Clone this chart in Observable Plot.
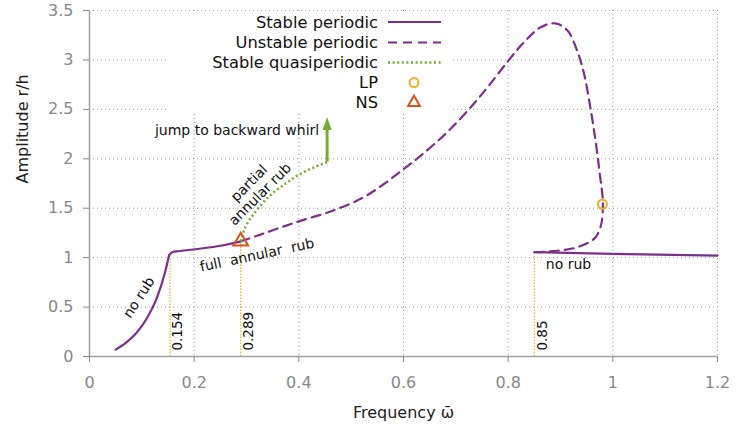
<!DOCTYPE html>
<html><head><meta charset="utf-8">
<script src="https://cdn.jsdelivr.net/npm/d3@7"></script>
<script src="https://cdn.jsdelivr.net/npm/@observablehq/plot@0.6"></script>
<style>
body{margin:0;background:#fff}
svg text{white-space:pre}
</style>
</head><body><div id="chart"></div>
<script>
// ---- data ----
const xTicks = [0, 0.2, 0.4, 0.6, 0.8, 1, 1.2];
const yTicks = [0, 0.5, 1, 1.5, 2, 2.5, 3, 3.5];

// stable periodic, no rub (low frequency)
const noRubX = [0.05, 0.07, 0.09, 0.11, 0.13, 0.145, 0.152];
const noRubY = [0.07, 0.14, 0.24, 0.39, 0.61, 0.865, 1.025];
// stable periodic, full annular rub
const fullRubX = [0.152, 0.158, 0.17, 0.21, 0.25, 0.289];
const fullRubY = [1.025, 1.055, 1.065, 1.09, 1.12, 1.165];
// unstable periodic
const unstX = [0.289, 0.3205, 0.36, 0.403, 0.4605, 0.52, 0.56, 0.6006, 0.6325, 0.6835, 0.734, 0.763, 0.798, 0.827, 0.862, 0.89, 0.913, 0.932, 0.945, 0.957, 0.967, 0.975, 0.981, 0.9765, 0.964, 0.932, 0.894, 0.855];
const unstY = [1.165, 1.222, 1.295, 1.372, 1.467, 1.60, 1.735, 1.898, 2.03, 2.268, 2.555, 2.74, 2.976, 3.16, 3.33, 3.37, 3.30, 3.09, 2.86, 2.52, 2.18, 1.85, 1.544, 1.31, 1.19, 1.105, 1.07, 1.055];
// stable periodic, no rub (high frequency)
const highX = [0.85, 1.0, 1.2];
const highY = [1.055, 1.038, 1.021];
// stable quasiperiodic
const quasiX = [0.289, 0.292, 0.295, 0.303, 0.314, 0.332, 0.352, 0.375, 0.397, 0.425, 0.454];
const quasiY = [1.165, 1.22, 1.274, 1.36, 1.443, 1.56, 1.66, 1.75, 1.83, 1.905, 1.965];
// jump arrow
const jumpX = 0.454, jumpY1 = 1.965, jumpY2 = 2.29;
// bifurcation points
const lpX = [0.98], lpY = [1.54];
const nsX = [0.289], nsY = [1.165];
// vertical marker lines
const markX = [0.154, 0.289, 0.85];
const markY = [1.03, 1.165, 1.055];
const markLabels = ["0.154", "0.289", "0.85"];
// annotations
const notes = [
  {x: 0.094, y: 0.60, text: "no rub", rotate: -57, anchor: "middle"},
  {x: 0.32, y: 1.03, text: "full  annular  rub", rotate: -12, anchor: "middle"},
  {x: 0.315, y: 1.70, text: "partial\nannular rub", rotate: -45, anchor: "middle"},
  {x: 0.282, y: 2.29, text: "jump to backward whirl", rotate: 0, anchor: "middle"},
  {x: 0.872, y: 0.94, text: "no rub", rotate: 0, anchor: "start"}
];
const legendLabels = ["Stable periodic", "Unstable periodic", "Stable quasiperiodic", "LP", "NS"];

// ---- colours ----
const PURPLE = "#7e2f8e", GREEN = "#77ac30", YELLOW = "#edb120", RED = "#d95319";

const zip = (xs, ys) => xs.map((x, i) => ({x, y: ys[i]}));
const font = "DejaVu Sans, Verdana, sans-serif";

const arrowHead = {draw(ctx) { ctx.moveTo(0, -13); ctx.lineTo(4.5, 0); ctx.lineTo(-4.5, 0); ctx.closePath(); }};

const plot = Plot.plot({
  width: 736, height: 434,
  marginLeft: 89, marginRight: 19, marginTop: 10, marginBottom: 78,
  style: {fontFamily: font, background: "#fff"},
  x: {domain: [0, 1.2]},
  y: {domain: [0, 3.5]},
  marks: [
    Plot.gridX(xTicks, {stroke: "#9a9a9a", strokeOpacity: 1, strokeDasharray: "1,3"}),
    Plot.gridY(yTicks, {stroke: "#9a9a9a", strokeOpacity: 1, strokeDasharray: "1,3"}),
    Plot.ruleX([0], {stroke: "#a0a0a0", strokeWidth: 1.5}),
    Plot.ruleY([0], {stroke: "#a0a0a0", strokeWidth: 1.5}),
    Plot.axisX(xTicks, {tickSize: 6, tickPadding: 14, fontSize: 16, fill: "#888", stroke: "#888", label: null, tickFormat: d => String(d)}),
    Plot.axisY(yTicks, {tickSize: 6, tickPadding: 10, fontSize: 16, fill: "#888", stroke: "#888", label: null, tickFormat: d => String(d)}),
    Plot.text(["Frequency ω̄"], {frameAnchor: "bottom", dy: 61, text: d => d, fontSize: 16, fill: "#222"}),
    Plot.text(["Amplitude r/h"], {frameAnchor: "left", dx: -67, rotate: -90, text: d => d, fontSize: 16, fill: "#222"}),
    // marker lines
    Plot.ruleX(markX.map((x, i) => ({x, y: markY[i]})), {x: "x", y1: 0, y2: "y", stroke: YELLOW, strokeWidth: 1.2, strokeDasharray: "1.5,1.5"}),
    Plot.text(markX.map((x, i) => ({x, t: markLabels[i]})), {x: "x", y: 0.06, text: "t", rotate: -90, textAnchor: "start", dx: 8, fontSize: 13.5, fill: "#111"}),
    // curves
    Plot.line(zip(noRubX, noRubY), {x: "x", y: "y", stroke: PURPLE, strokeWidth: 2.2, curve: "monotone-x"}),
    Plot.line(zip(fullRubX, fullRubY), {x: "x", y: "y", stroke: PURPLE, strokeWidth: 2.2, curve: "monotone-x"}),
    Plot.line(zip(highX, highY), {x: "x", y: "y", stroke: PURPLE, strokeWidth: 2.2}),
    Plot.line(zip(unstX, unstY), {x: "x", y: "y", stroke: PURPLE, strokeWidth: 2.2, strokeDasharray: "9,6", curve: "catmull-rom"}),
    Plot.line(zip(quasiX, quasiY), {x: "x", y: "y", stroke: GREEN, strokeWidth: 2.5, strokeDasharray: "2,2.6", strokeLinecap: "butt", curve: "catmull-rom"}),
    // jump arrow
    Plot.ruleX([{x: jumpX, y1: jumpY1, y2: jumpY2}], {x: "x", y1: "y1", y2: "y2", stroke: GREEN, strokeWidth: 3}),
    Plot.dot([{x: jumpX, y: jumpY2}], {x: "x", y: "y", symbol: arrowHead, fill: GREEN, stroke: "none"}),
    // bifurcation markers
    Plot.dot(zip(lpX, lpY), {x: "x", y: "y", r: 4.5, stroke: YELLOW, strokeWidth: 2, fill: "none"}),
    Plot.dot(zip(nsX, nsY), {x: "x", y: "y", symbol: "triangle", r: 5.5, stroke: RED, strokeWidth: 2, fill: "none"}),
    // annotations
    ...notes.map(n => Plot.text([n], {x: "x", y: "y", text: "text", rotate: n.rotate, textAnchor: n.anchor, fontSize: 14, fill: "#111", lineHeight: 1.1}))
  ]
});
document.getElementById("chart").appendChild(plot);

// ---- legend (drawn inside the plot area, upper middle) ----
const svg = d3.select(plot);
const lg = svg.append("g").attr("font-family", font).attr("font-size", 16.3);
lg.append("rect").attr("x", 168).attr("y", 12).attr("width", 282).attr("height", 101).attr("fill", "#fff");
const rowY = [22, 42.5, 62.5, 82.5, 102.5];
const styles = [
  {type: "line", stroke: PURPLE, dash: null, w: 2.2},
  {type: "line", stroke: PURPLE, dash: "9,6", w: 2.2},
  {type: "line", stroke: GREEN, dash: "2,2.6", w: 2.5},
  {type: "circle", stroke: YELLOW},
  {type: "tri", stroke: RED}
];
legendLabels.forEach((lab, i) => {
  const y = rowY[i];
  lg.append("text").attr("x", 378).attr("y", y).attr("dy", "0.35em").attr("text-anchor", "end").attr("fill", "#111").text(lab);
  const s = styles[i];
  if (s.type === "line") {
    lg.append("line").attr("x1", 388).attr("x2", 441).attr("y1", y).attr("y2", y)
      .attr("stroke", s.stroke).attr("stroke-width", s.w).attr("stroke-dasharray", s.dash);
  } else if (s.type === "circle") {
    lg.append("circle").attr("cx", 414).attr("cy", y).attr("r", 4.5).attr("fill", "none").attr("stroke", s.stroke).attr("stroke-width", 2);
  } else {
    lg.append("path").attr("d", d3.symbol(d3.symbolTriangle, 60)()).attr("transform", `translate(414,${y})`)
      .attr("fill", "none").attr("stroke", s.stroke).attr("stroke-width", 2);
  }
});
</script>
</body></html>
